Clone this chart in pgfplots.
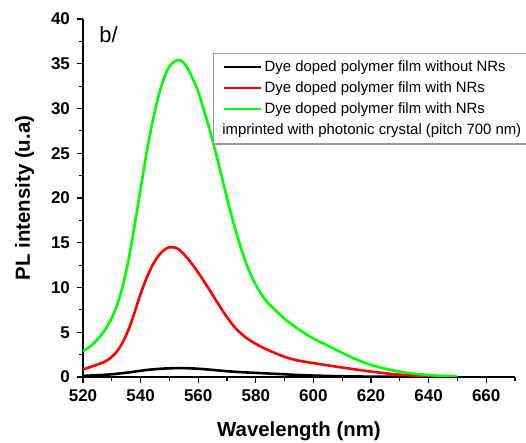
\documentclass[border=0pt]{standalone}
\usepackage{fontspec}
\setmainfont{Liberation Sans}
\usepackage{pgfplots}
\pgfplotsset{compat=1.18}
\begin{document}
\begin{tikzpicture}
\begin{axis}[
  scale only axis,
  width=216pt, height=179pt,
  xmin=520, xmax=670, ymin=0, ymax=40,
  axis x line*=bottom, axis y line*=left,
  axis line style={-, line width=0.75pt, black},
  xtick={520,540,...,660},
  minor xtick={530,550,...,670},
  ytick={0,5,...,40},
  minor ytick={2.5,7.5,...,37.5},
  tick align=outside,
  major tick length=3pt, minor tick length=1.8pt,
  every tick/.style={black, line width=0.6pt},
  /pgf/number format/assume math mode=true,
  tick label style={font=\fontsize{8.5}{10}\selectfont\bfseries},
  xlabel={Wavelength (nm)},
  ylabel={PL intensity (u.a)},
  label style={font=\fontsize{10.2}{12}\selectfont\bfseries},
  xlabel style={at={(axis description cs:0.5,-0.1676)}, anchor=base},
  ylabel style={at={(axis description cs:-0.1227,0.5)}, anchor=base},
  legend cell align=left,
  legend image code/.code={\draw[#1] (0pt,0pt) -- (18.5pt,0pt);},
  legend style={at={(axis description cs:0.30,0.906)}, anchor=north west,
    draw=gray!80, line width=0.7pt, fill=white,
    font=\fontsize{7.45}{8.5}\selectfont,
    inner xsep=4.5pt, inner ysep=2pt, row sep=0.7pt,
    nodes={inner ysep=1pt, inner xsep=1.4pt, text height=6pt, text depth=1.8pt}},
]
\addplot[black, line width=1.3pt, smooth] coordinates {
(520,0.12)(525,0.2)(530,0.3)(533,0.4)(536,0.52)(539,0.65)(542,0.78)(545,0.87)
(548,0.94)(551,0.98)(554,1.0)(557,0.97)(560,0.92)(563,0.85)(566,0.76)(569,0.67)
(572,0.6)(576,0.52)(580,0.46)(585,0.38)(590,0.3)(595,0.22)(600,0.16)(610,0.08)
(620,0.04)(630,0.02)(640,0.01)(650,0.0)};
\addlegendentry{Dye doped polymer film without NRs}
\addplot[red, line width=1.3pt, smooth] coordinates {
(520,0.85)(522,1.05)(524,1.28)(526,1.5)(528,1.78)(530,2.25)(532,2.95)(534,4.0)(536,5.45)
(538,7.3)(540,9.3)(542,11.0)(544,12.4)(546,13.45)(548,14.15)(550,14.5)(552.5,14.4)
(554.8,13.8)(557.2,12.9)(559.5,11.9)(561.8,10.8)(564.1,9.65)(566.4,8.45)(568.7,7.3)
(571,6.25)(573.4,5.3)(576.8,4.35)(580,3.7)(584,3.05)(590,2.25)(595,1.82)(601,1.5)
(607,1.2)(613,0.92)(618.5,0.67)(624,0.45)(630,0.26)(636,0.15)(642,0.07)(645,0.02)};
\addlegendentry{Dye doped polymer film with NRs}
\addplot[green, line width=1.3pt, smooth] coordinates {
(520,2.9)(522,3.3)(524,3.85)(526,4.55)(528,5.45)(530,6.6)(532,8.2)(534,10.4)(536,13.4)
(538,17.1)(540,21.0)(542,24.9)(544,28.3)(546,31.1)(548,33.3)(550,34.7)(552,35.3)
(553.5,35.4)(555,35.1)(556.5,34.4)(558,33.4)(560,31.9)(562,29.8)(564,27.6)(566,25.2)
(568,22.6)(570,20.0)(572,17.5)(574,15.3)(576,13.3)(578,11.6)(580,10.3)(582,9.2)
(584,8.35)(587,7.4)(590,6.5)(595,5.3)(600,4.3)(605,3.5)(610,2.7)(615,1.95)(620,1.35)
(625,0.92)(630,0.6)(635,0.37)(640,0.22)(645,0.12)(650,0.04)};
\addlegendentry{Dye doped polymer film with NRs}
\addlegendimage{empty legend}
\addlegendentry{\hspace*{-21.2pt}imprinted with photonic crystal (pitch 700 nm)}
\node[anchor=base west, font=\fontsize{11}{13}\selectfont, inner sep=0pt]
  at (axis description cs:0.037,0.933) {b/};
\end{axis}
\pgfresetboundingbox
\path (-41.5pt,-33pt) rectangle (221.5pt,188.5pt);
\end{tikzpicture}
\end{document}
